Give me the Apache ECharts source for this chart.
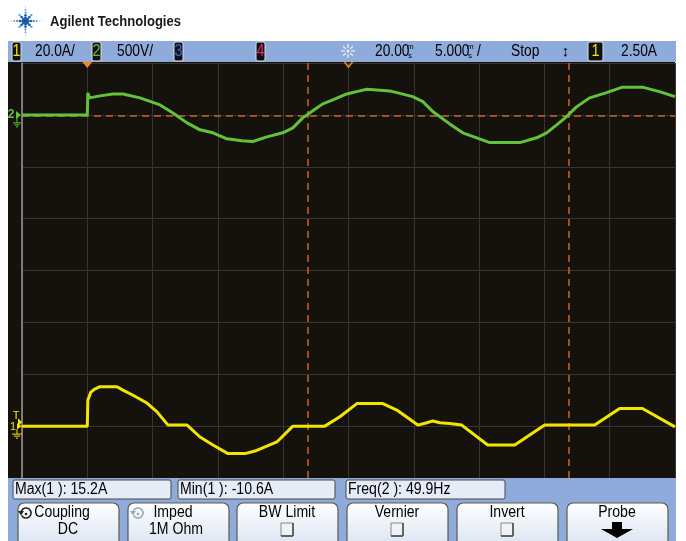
<!DOCTYPE html>
<html>
<head>
<meta charset="utf-8">
<script src="https://cdn.jsdelivr.net/npm/echarts@6/dist/echarts.min.js"></script>
<style>
html, body { margin: 0; padding: 0; background: #fff; }
#scope { width: 686px; height: 541px; }
</style>
</head>
<body>
<div id="scope"></div>
<script>
// time in ms, trigger at 0, 5 ms/div, 10 div on screen
const ch1Time = [-5, 0, 0.04, 0.27, 0.57, 0.97, 2.27, 2.73, 3.5, 4.57, 5.34, 6.18, 7.64, 8.63, 9.62, 10.77, 12.07, 12.84, 14.52, 15.74, 18.19, 19.34, 20.64, 22.63, 23.7, 25.31, 26.0, 26.46, 26.99, 27.75, 28.67, 30.66, 32.73, 35.02, 38.85, 40.76, 42.51, 45]
const ch1Amps = [0, 0, 10.0, 13.1, 14.3, 15.2, 15.2, 13.9, 11.9, 8.9, 5.5, 0.4, 0.4, -4.2, -7.3, -10.6, -10.6, -9.6, -6.1, 0, 0, 3.6, 8.7, 8.7, 6.2, 0.4, 1.3, 2.0, 1.3, 1.0, 0.4, -7.3, -7.3, 0.4, 0.4, 6.8, 6.8, -0.3]
const ch2Time = [-5, 0, 0.04, 0.17, 0.97, 1.97, 2.73, 4.03, 5.57, 6.56, 7.64, 8.63, 9.62, 10.69, 11.84, 12.68, 13.75, 14.97, 15.74, 16.5, 17.27, 18.03, 18.8, 19.87, 20.86, 21.4, 23.16, 24.92, 25.69, 26.45, 27.75, 28.75, 29.82, 30.82, 33.11, 34.41, 35.17, 35.94, 36.7, 37.46, 38.46, 39.76, 40.98, 42.51, 43.81, 45]
const ch2Volts = [0, 0, 212, 164, 183, 202, 202, 164, 96, 19, -77, -144, -173, -231, -250, -257, -212, -173, -125, -29, 39, 106, 144, 202, 231, 247, 231, 176, 128, 32, -87, -173, -221, -267, -267, -221, -173, -96, -16, 77, 164, 215, 267, 267, 224, 176]

const cursorTimes = [16.9, 36.9]
const trigLevel = -10   // V, ch2
const delayTime = 20    // ms, screen centre

// text on the scope
const measurements = ['Max(1 ): 15.2A', 'Min(1 ): -10.6A', 'Freq(2 ): 49.9Hz']
const softkeys = [
  ['Coupling', 'DC'],
  ['Imped', '1M Ohm'],
  ['BW Limit', ''],
  ['Vernier', ''],
  ['Invert', ''],
  ['Probe', '']
]

const FONT = '"Liberation Sans", Arial, sans-serif'
const BLUE = '#8fabdc'
const YELLOW = '#f2e600'
const GREEN = '#62c23a'
const ORANGE = '#c8651e'

function txt (x, y, s, o) {
  o = o || {}
  return {
    type: 'text', x: x, y: y, scaleX: o.sx || 0.86, z: 20, silent: true,
    style: {
      text: s, fill: o.color || '#000',
      font: (o.weight || 'normal') + ' ' + (o.size || 16) + 'px ' + FONT,
      textAlign: o.align || 'left', textVerticalAlign: 'middle', verticalAlign: 'middle'
    }
  }
}
function line (x1, y1, x2, y2, color, w) {
  return { type: 'line', z: 20, silent: true, shape: { x1: x1, y1: y1, x2: x2, y2: y2 }, style: { stroke: color, lineWidth: w || 1 } }
}
function badge (x, w, digit, color) {
  return [
    { type: 'rect', z: 19, silent: true, shape: { x: x, y: 42, width: w, height: 19, r: 2 }, style: { fill: '#111', stroke: '#d8dde6', lineWidth: 1 } },
    txt(x + w / 2, 52, digit, { color: color, align: 'center', size: 16, sx: 0.9 })
  ]
}

let chart = echarts.init(document.getElementById('scope'))
let option = {
  animation: false,
  backgroundColor: '#fff',
  grid: { left: 22, top: 63, width: 653, height: 415 },
  xAxis: {
    type: 'value', min: -5, max: 45, interval: 5,
    axisLine: { show: false }, axisTick: { show: false }, axisLabel: { show: false },
    splitLine: { lineStyle: { color: '#38342f', width: 1 } }
  },
  yAxis: [
    {
      type: 'value', min: -20, max: 140, interval: 20,
      axisLine: { show: true, onZero: false, lineStyle: { color: '#9a9a9a', width: 1.5 } },
      axisTick: { show: false }, axisLabel: { show: false },
      splitLine: { lineStyle: { color: '#38342f', width: 1 } }
    },
    {
      type: 'value', min: -3500, max: 500, interval: 500, show: false,
      splitLine: { show: false }
    }
  ],
  series: [
    {
      name: 'ch1', type: 'line', yAxisIndex: 0, symbol: 'none', z: 5,
      lineStyle: { color: YELLOW, width: 3 },
      data: ch1Time.map((t, i) => [t, ch1Amps[i]]),
      markLine: {
        silent: true, symbol: 'none', label: { show: false },
        lineStyle: { color: ORANGE, type: [7, 5], width: 1.5 },
        data: cursorTimes.map(t => ({ xAxis: t }))
      }
    },
    {
      name: 'ch2', type: 'line', yAxisIndex: 1, symbol: 'none', z: 6,
      lineStyle: { color: GREEN, width: 3 },
      data: ch2Time.map((t, i) => [t, ch2Volts[i]]),
      markLine: {
        silent: true, symbol: 'none', label: { show: false },
        lineStyle: { color: ORANGE, type: [7, 5], width: 1.5 },
        data: [{ yAxis: trigLevel }]
      }
    }
  ]
}
chart.setOption(option)

// chrome: header, status bar, softkeys, markers
let g = []
// screen background
g.push({ type: 'rect', z: -1, silent: true, shape: { x: 8, y: 62, width: 667, height: 416 }, style: { fill: '#15120e' } })
// logo
for (let a = 0; a < 8; a++) {
  const ang = a * Math.PI / 4
  const n = a % 4 === 0 ? 6 : (a % 4 === 2 ? 5 : 3)
  for (let k = 1; k <= n; k++) {
    const d = k * 2.8
    g.push({ type: 'circle', z: 20, silent: true,
      shape: { cx: 25.5 + Math.cos(ang) * d, cy: 21 + Math.sin(ang) * d, r: Math.max(0.6, 1.8 - k * 0.22) },
      style: { fill: k < 3 ? '#1f5fae' : (k < 5 ? '#4a9ae0' : '#9ccdf2') } })
  }
}
g.push({ type: 'circle', z: 20, silent: true, shape: { cx: 25.5, cy: 21, r: 2 }, style: { fill: '#1a4f9a' } })
g.push(txt(50, 22, 'Agilent Technologies', { weight: 'bold', size: 15, sx: 0.87, color: '#1a1a1a' }))

// top status bar
g.push({ type: 'rect', z: 10, silent: true, shape: { x: 8, y: 41, width: 668, height: 21 }, style: { fill: BLUE } })
g.push(...badge(12, 9, '1', YELLOW))
g.push(txt(35, 52, '20.0A/'))
g.push(...badge(92, 9, '2', GREEN))
g.push(txt(117, 52, '500V/'))
g.push(...badge(174, 9, '3', '#3c64d8'))
g.push(...badge(256, 9, '4', '#e0207a'))
// time icon
for (let a = 0; a < 8; a++) {
  const ang = a * Math.PI / 4
  g.push(line(348 + Math.cos(ang) * 3, 51 + Math.sin(ang) * 3, 348 + Math.cos(ang) * 7, 51 + Math.sin(ang) * 7, '#eef2f8', 1.2))
}
g.push({ type: 'circle', z: 20, silent: true, shape: { cx: 348, cy: 51, r: 1.5 }, style: { fill: '#eef2f8' } })
g.push(txt(375, 52, '20.00'))
g.push(txt(407, 47, 'm', { size: 8, sx: 1 }))
g.push(txt(408, 56, 's', { size: 8, sx: 1 }))
g.push(txt(435, 52, '5.000'))
g.push(txt(467, 47, 'm', { size: 8, sx: 1 }))
g.push(txt(468, 56, 's', { size: 8, sx: 1 }))
g.push(txt(477, 52, '/'))
g.push(txt(511, 52, 'Stop'))
g.push(txt(565.5, 52, '↕', { align: 'center', size: 15, sx: 1, weight: 'bold' }))
g.push(...badge(588, 15, '1', YELLOW))
g.push(txt(621, 52, '2.50A'))

// bottom area
g.push({ type: 'rect', z: 10, silent: true, shape: { x: 8, y: 478, width: 668, height: 63 }, style: { fill: BLUE } })
const mBoxes = [[13, 158], [178, 157], [346, 159]]
measurements.forEach((m, i) => {
  g.push({ type: 'rect', z: 15, silent: true, shape: { x: mBoxes[i][0], y: 480, width: mBoxes[i][1], height: 19, r: 2 }, style: { fill: '#e6ecf7', stroke: '#4a4a44', lineWidth: 1 } })
  g.push(txt(mBoxes[i][0] + 2, 490, m, { sx: 0.88 }))
})
const keyX = [18, 128, 237, 347, 457, 567]
softkeys.forEach((k, i) => {
  const x0 = keyX[i], cx = x0 + 50
  g.push({ type: 'rect', z: 15, silent: true, shape: { x: x0, y: 503, width: 101, height: 46, r: 6 },
    style: { fill: { type: 'linear', x: 0, y: 0, x2: 0, y2: 1, colorStops: [{ offset: 0, color: '#ffffff' }, { offset: 1, color: '#d8e2f2' }] }, stroke: '#5c5c4a', lineWidth: 1.2 } })
  if (i < 2) {
    const ic = i === 0 ? 26 : 138
    const col = i === 0 ? '#222' : '#9aa8b8'
    g.push({ type: 'arc', z: 20, silent: true, shape: { cx: ic, cy: 513, r: 5, startAngle: Math.PI * 1.05, endAngle: Math.PI * 2.85 }, style: { stroke: col, fill: null, lineWidth: 1.6 } })
    g.push({ type: 'polygon', z: 20, silent: true, shape: { points: [[ic - 8, 511], [ic - 2, 511], [ic - 5, 515.5]] }, style: { fill: col } })
    g.push({ type: 'circle', z: 20, silent: true, shape: { cx: ic, cy: 514, r: 1.3 }, style: { fill: col } })
    g.push(txt(i === 0 ? 62 : 173, 513, k[0], { align: 'center', sx: 0.88 }))
    g.push(txt(i === 0 ? 68 : 176, 530, k[1], { align: 'center', sx: 0.88 }))
  } else {
    g.push(txt(cx, 513, k[0], { align: 'center', sx: 0.88 }))
  }
  if (i >= 2 && i <= 4) {
    g.push({ type: 'rect', z: 20, silent: true, shape: { x: cx - 6, y: 523, width: 12, height: 13 }, style: { fill: '#eef2f8', stroke: '#8a8a7a', lineWidth: 1 } })
    g.push(line(cx - 6, 536, cx + 6, 536, '#4a4a3a', 1.5))
    g.push(line(cx + 6, 523, cx + 6, 536, '#4a4a3a', 1.5))
  }
  if (i === 5) {
    g.push({ type: 'polygon', z: 20, silent: true,
      shape: { points: [[cx - 5, 522], [cx + 5, 522], [cx + 5, 529], [cx + 16, 529], [cx, 538], [cx - 16, 529], [cx - 5, 529]] },
      style: { fill: '#000' } })
  }
})

// markers placed through the axes
const x0 = chart.convertToPixel({ xAxisIndex: 0 }, 0)
const xc = chart.convertToPixel({ xAxisIndex: 0 }, delayTime)
const y1 = chart.convertToPixel({ yAxisIndex: 0 }, 0)
const y2 = chart.convertToPixel({ yAxisIndex: 1 }, 0)
g.push({ type: 'polygon', z: 20, silent: true, shape: { points: [[x0 - 5, 62], [x0 + 5, 62], [x0, 68]] }, style: { fill: '#f08a20' } })
g.push({ type: 'polyline', z: 20, silent: true, shape: { points: [[xc - 4, 62], [xc, 67], [xc + 4, 62]] }, style: { stroke: '#f08a20', lineWidth: 1.5, fill: null } })
// ch2 marker
g.push(txt(11, y2, '2', { color: GREEN, size: 12, align: 'center', sx: 1, weight: 'bold' }))
g.push({ type: 'polygon', z: 20, silent: true, shape: { points: [[16, y2 - 4], [21, y2], [16, y2 + 4]] }, style: { fill: GREEN } })
g.push(line(17, y2 + 3, 17, y2 + 8, GREEN, 1))
g.push(line(13, y2 + 8, 21, y2 + 8, GREEN, 1))
g.push(line(14.5, y2 + 10, 19.5, y2 + 10, GREEN, 1))
g.push(line(16, y2 + 12, 18, y2 + 12, GREEN, 1))
// ch1 marker
g.push(txt(16, y1 - 10, 'T', { color: YELLOW, size: 11, align: 'center', sx: 1 }))
g.push({ type: 'polygon', z: 20, silent: true, shape: { points: [[18, y1 - 8], [22, y1 - 4], [18, y1]] }, style: { fill: YELLOW } })
g.push(txt(13, y1 + 1, '1', { color: YELLOW, size: 11, align: 'center', sx: 1 }))
g.push({ type: 'polygon', z: 20, silent: true, shape: { points: [[17, y1 - 3], [22, y1], [17, y1 + 3]] }, style: { fill: YELLOW } })
g.push(line(17, y1 + 3, 17, y1 + 8, YELLOW, 1))
g.push(line(12, y1 + 8, 22, y1 + 8, YELLOW, 1))
g.push(line(14, y1 + 10, 20, y1 + 10, YELLOW, 1))
g.push(line(16, y1 + 12, 18, y1 + 12, YELLOW, 1))

chart.setOption({ graphic: { elements: g } })
window.onresize = chart.resize
</script>
</body>
</html>
